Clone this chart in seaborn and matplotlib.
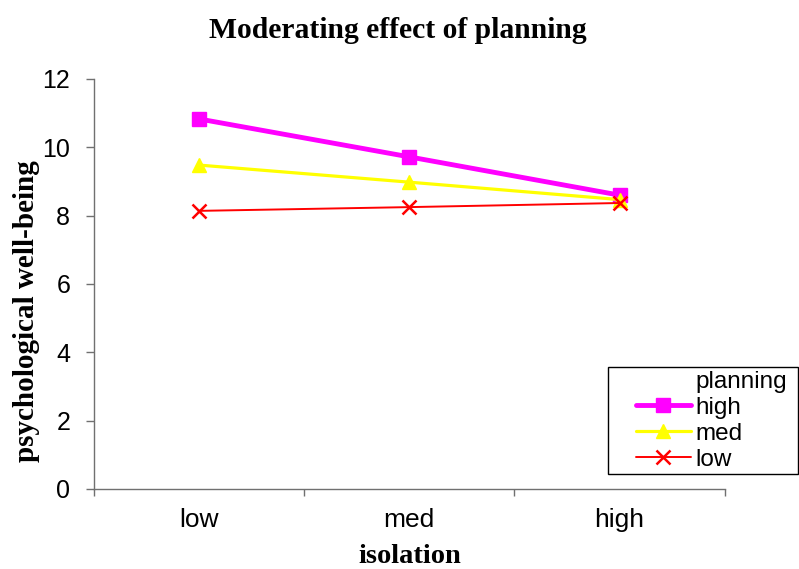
import seaborn as sns
import pandas as pd
import matplotlib
matplotlib.use("Agg")
import matplotlib.pyplot as plt
from matplotlib.lines import Line2D
from matplotlib.patches import Rectangle

sns.set_theme(style="white")

isolation = ["low", "med", "high"]
planning = ["high", "med", "low"]
high_vals = [10.83, 9.72, 8.60]
med_vals = [9.48, 8.98, 8.47]
low_vals = [8.14, 8.25, 8.37]

colors = {"high": "#ff00ff", "med": "#ffff00", "low": "#ff0000"}
markers = {"high": "s", "med": "^", "low": "x"}
widths = {"high": 3.5, "med": 2.3, "low": 1.4}
msizes = {"high": 10.5, "med": 10, "low": 10}
mew = {"high": 1, "med": 1, "low": 1.8}

df = pd.DataFrame({
    "isolation": isolation * 3,
    "planning": ["high"] * 3 + ["med"] * 3 + ["low"] * 3,
    "wellbeing": high_vals + med_vals + low_vals,
})

fig = plt.figure(figsize=(7.99, 5.69), dpi=100)
ax = fig.add_axes([0.1176, 0.1406, 0.7894, 0.7206])

for p in planning:
    sub = df[df["planning"] == p]
    sns.lineplot(data=sub, x="isolation", y="wellbeing", ax=ax, color=colors[p],
                 marker=markers[p], markersize=msizes[p], linewidth=widths[p],
                 markeredgecolor=colors[p], markeredgewidth=mew[p],
                 sort=False, legend=False)

ax.set_xlim(-0.5, 2.5)
ax.set_ylim(0, 12)
ax.set_yticks(range(0, 13, 2))
ax.set_xticks([0, 1, 2])
ax.set_xticks([-0.5, 0.5, 1.5, 2.5], minor=True)
ax.tick_params(axis="x", which="major", length=0, pad=14, labelsize=19, labelcolor="black")
ax.tick_params(axis="x", which="minor", length=5, width=1, color="#707070", direction="out", bottom=True)
ax.tick_params(axis="y", length=6, width=1, color="#707070", direction="out", left=True, pad=11,
               labelsize=18, labelcolor="black")
for lab in ax.get_xticklabels() + ax.get_yticklabels():
    lab.set_family("Liberation Sans")

sns.despine(ax=ax)
for s in ["left", "bottom"]:
    ax.spines[s].set_color("#707070")
    ax.spines[s].set_linewidth(1)

ax.set_xlabel("isolation", family="Liberation Serif", fontweight="bold", fontsize=20.5,
              labelpad=8, color="black")
ax.set_ylabel("psychological well-being", family="Liberation Serif", fontweight="bold",
              fontsize=21, color="black")
ax.yaxis.set_label_coords(-0.086, 0.434)
fig.suptitle("Moderating effect of planning", family="Liberation Serif", fontweight="bold",
             fontsize=21.3, x=0.498, y=0.971, color="black")

handles = [Line2D([], [], linestyle="none")]
labels = ["planning"]
for p in planning:
    handles.append(Line2D([], [], color=colors[p], marker=markers[p], linewidth=widths[p],
                          markersize=msizes[p] - 0.5, markeredgecolor=colors[p],
                          markeredgewidth=mew[p]))
    labels.append(p)
leg = fig.legend(handles, labels, loc="upper left", bbox_to_anchor=(636 / 799, 1 - 371 / 569),
                 frameon=False, prop={"family": "Liberation Sans", "size": 17.5},
                 handlelength=2.25, handletextpad=0.18, labelspacing=0.16, borderpad=0,
                 borderaxespad=0)
for t in leg.get_texts():
    t.set_color("black")
fig.add_artist(Rectangle((608 / 799, 1 - 474 / 569), 190 / 799, 107 / 569,
                         transform=fig.transFigure, fill=False, edgecolor="black", linewidth=1))

fig.savefig("out.png", dpi=100)
